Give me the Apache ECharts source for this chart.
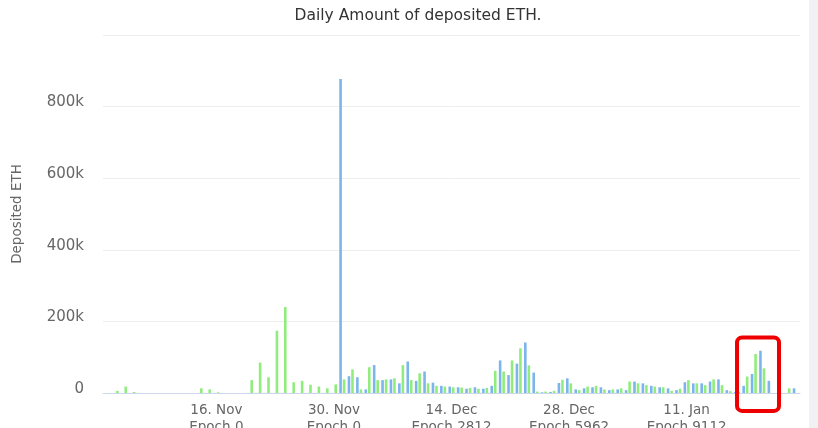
<!DOCTYPE html>
<html>
<head>
<meta charset="utf-8">
<script src="https://cdn.jsdelivr.net/npm/echarts@6/dist/echarts.min.js"></script>
<style>
  html, body { margin: 0; padding: 0; background: #ffffff; }
  #chart { width: 818px; height: 428px; }
</style>
</head>
<body>
<div id="chart"></div>
<script>
// One category per day, 3 Nov to 24 Jan
const days = [
  '3 Nov','4 Nov','5 Nov','6 Nov','7 Nov','8 Nov','9 Nov','10 Nov','11 Nov','12 Nov','13 Nov','14 Nov','15 Nov',
  '16 Nov','17 Nov','18 Nov','19 Nov','20 Nov','21 Nov','22 Nov','23 Nov','24 Nov','25 Nov','26 Nov','27 Nov',
  '28 Nov','29 Nov','30 Nov','1 Dec','2 Dec','3 Dec','4 Dec','5 Dec','6 Dec','7 Dec','8 Dec','9 Dec','10 Dec',
  '11 Dec','12 Dec','13 Dec','14 Dec','15 Dec','16 Dec','17 Dec','18 Dec','19 Dec','20 Dec','21 Dec','22 Dec',
  '23 Dec','24 Dec','25 Dec','26 Dec','27 Dec','28 Dec','29 Dec','30 Dec','31 Dec','1 Jan','2 Jan','3 Jan',
  '4 Jan','5 Jan','6 Jan','7 Jan','8 Jan','9 Jan','10 Jan','11 Jan','12 Jan','13 Jan','14 Jan','15 Jan',
  '16 Jan','17 Jan','18 Jan','19 Jan','20 Jan','21 Jan','22 Jan','23 Jan','24 Jan'
];

// Deposits per day, ETH (blue series starts on 1 Dec)
const blueDeposits = [
  null,null,null,null,null,null,null,null,null,null,null,null,null,
  null,null,null,null,null,null,null,null,null,null,null,null,
  null,null,null,877000,47000,44000,10000,78000,36000,38000,27000,88000,34000,
  60000,29000,20000,18000,16000,12000,16000,12000,20000,91000,50000,82000,
  141000,57000,2000,3000,28000,41000,10000,13000,16000,16000,8000,10000,
  8000,32000,27000,20000,16000,13000,8000,30000,27000,27000,32000,38000,
  8000,3000,20000,53000,118000,34000,0,0,13000
];
const greenDeposits = [
  0,6000,18000,3000,0,0,0,0,0,0,0,13000,10000,
  2000,0,0,0,36000,85000,44000,174000,240000,30000,34000,23000,
  18000,13000,24000,38000,66000,10000,72000,36000,38000,41000,78000,36000,55000,
  27000,20000,18000,16000,15000,14000,12000,14000,62000,60000,91000,125000,
  77000,4000,4000,6000,37000,27000,8000,18000,20000,10000,10000,13000,
  32000,27000,22000,18000,16000,6000,12000,36000,27000,22000,38000,22000,
  5000,3000,46000,109000,69000,0,0,13000,0
];

// Labelled ticks on the date axis
const tickDays = ['16 Nov', '30 Nov', '14 Dec', '28 Dec', '11 Jan'];
const tickDates = ['16. Nov', '30. Nov', '14. Dec', '28. Dec', '11. Jan'];
const tickEpochs = ['Epoch 0', 'Epoch 0', 'Epoch 2812', 'Epoch 5962', 'Epoch 9112'];

// Highlighted stretch at the end of the range
const highlightFrom = '17 Jan';
const highlightTo = '22 Jan';
const highlightTop = 155000;
const highlightBottom = -50000;

const FONT = 'DejaVu Sans';
const isTick = (idx, val) => tickDays.indexOf(val) >= 0;

const chart = echarts.init(document.getElementById('chart'), null, { renderer: 'canvas' });

chart.setOption({
  animation: false,
  backgroundColor: '#ffffff',
  title: {
    text: 'Daily Amount of deposited ETH.',
    left: 413,
    textAlign: 'center',
    top: 3,
    textStyle: { fontFamily: FONT, fontSize: 15.5, fontWeight: 'normal', color: '#333333' }
  },
  grid: { left: 103, right: 18, top: 35, bottom: 35, containLabel: false, outerBoundsMode: 'none' },
  xAxis: {
    type: 'category',
    data: days,
    boundaryGap: true,
    axisLine: { lineStyle: { color: '#ccd6eb', width: 1 } },
    axisTick: { interval: isTick, alignWithLabel: true, length: 6, lineStyle: { color: '#ccd6eb' } },
    axisLabel: {
      interval: isTick,
      margin: 9,
      formatter: function (val) {
        const i = tickDays.indexOf(val);
        return '{d|' + tickDates[i] + '}\n{e|' + tickEpochs[i] + '}';
      },
      rich: {
        d: { fontFamily: FONT, fontSize: 13.5, color: '#666666', lineHeight: 17 },
        e: { fontFamily: FONT, fontSize: 13.5, color: '#666666', lineHeight: 17 }
      }
    },
    splitLine: { show: false }
  },
  yAxis: {
    type: 'value',
    min: 0,
    max: 1000000,
    interval: 200000,
    name: 'Deposited ETH',
    nameLocation: 'middle',
    nameGap: 79,
    nameTextStyle: { fontFamily: FONT, fontSize: 13.5, color: '#666666' },
    axisLine: { show: false },
    axisTick: { show: false },
    axisLabel: {
      margin: 19,
      formatter: function (v) {
        if (v >= 1000000) return '';
        return '{v|' + (v === 0 ? '0' : (v / 1000) + 'k') + '}';
      },
      rich: {
        v: { fontFamily: FONT, fontSize: 15, color: '#666666', padding: [0, 0, 8, 0] }
      }
    },
    splitLine: { lineStyle: { color: '#ededed', width: 1 } }
  },
  series: [
    {
      name: 'blue',
      type: 'bar',
      data: blueDeposits,
      barWidth: 2.6,
      barGap: '35%',
      itemStyle: { color: '#7cb5ec' }
    },
    {
      name: 'green',
      type: 'bar',
      data: greenDeposits,
      barWidth: 2.6,
      barGap: '35%',
      itemStyle: { color: '#90ed7d' }
    }
  ]
});

// Right-hand panel strip and the red highlight box, placed via the chart's own scales
function drawOverlay() {
  const p1 = chart.convertToPixel({ gridIndex: 0 }, [highlightFrom, highlightTop]);
  const p2 = chart.convertToPixel({ gridIndex: 0 }, [highlightTo, highlightBottom]);
  chart.setOption({
    graphic: [
      {
        type: 'rect',
        right: 0,
        top: 0,
        shape: { width: 9, height: 428 },
        style: { fill: '#f1f1f4' },
        silent: true
      },
      {
        type: 'rect',
        shape: { x: p1[0], y: p1[1], width: p2[0] - p1[0], height: p2[1] - p1[1], r: 5 },
        style: { fill: 'none', stroke: '#ee0000', lineWidth: 4 },
        z: 100,
        silent: true
      }
    ]
  });
}
drawOverlay();
</script>
</body>
</html>
